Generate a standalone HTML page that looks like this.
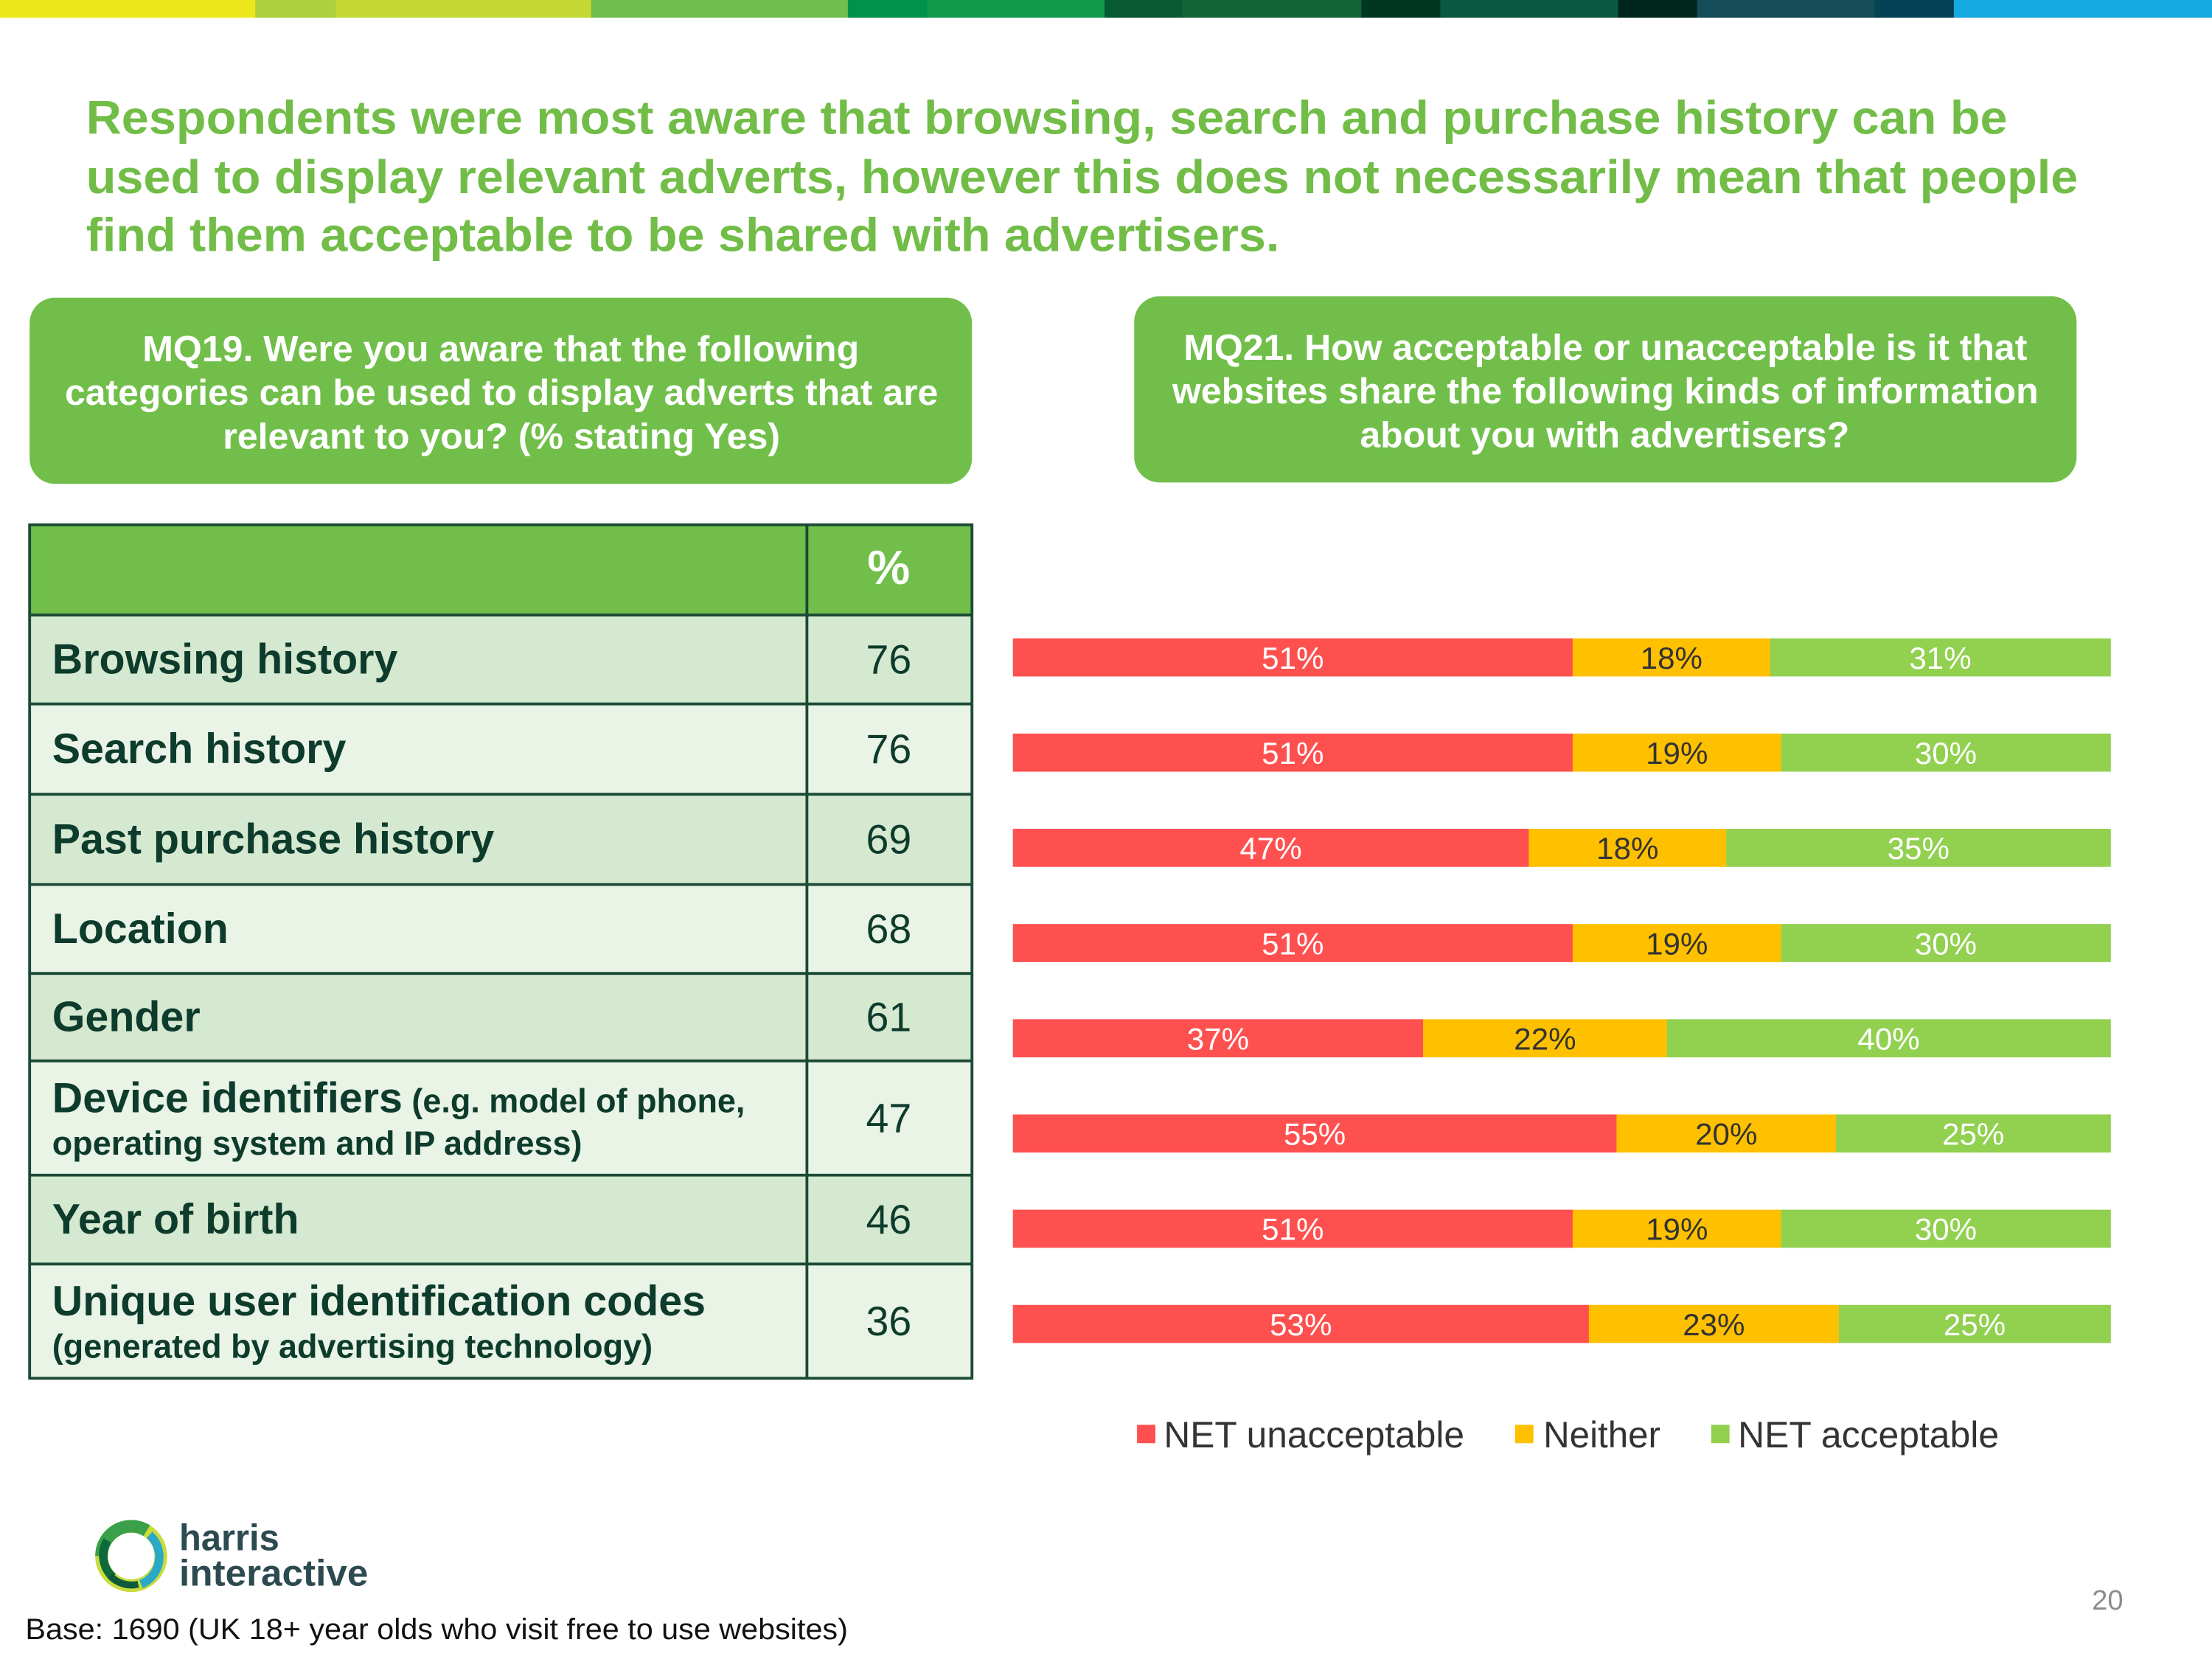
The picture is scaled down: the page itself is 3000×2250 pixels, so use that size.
<!DOCTYPE html>
<html><head><meta charset="utf-8"><style>html,body{margin:0;padding:0;background:#fff}svg{display:block}text{font-family:"Liberation Sans",sans-serif}</style></head>
<body>
<svg width="3000" height="2250" viewBox="0 0 1568 1176" preserveAspectRatio="none" xmlns="http://www.w3.org/2000/svg">
<g id="topbar"></g>
<g fill="#71bd47" font-weight="bold" font-size="33.5" lengthAdjust="spacingAndGlyphs">
<text x="61" y="95" textLength="1362" lengthAdjust="spacingAndGlyphs">Respondents were most aware that browsing, search and purchase history can be</text>
<text x="61" y="137" textLength="1412" lengthAdjust="spacingAndGlyphs">used to display relevant adverts, however this does not necessarily mean that people</text>
<text x="61" y="178" textLength="846" lengthAdjust="spacingAndGlyphs">find them acceptable to be shared with advertisers.</text>
</g>
<g>
<rect x="21" y="211" width="668" height="132" rx="18" fill="#71bf4a"/>
<g fill="#fff" font-weight="bold" font-size="25.5">
<text x="101" y="256" textLength="508" lengthAdjust="spacingAndGlyphs">MQ19. Were you aware that the following</text>
<text x="46" y="287" textLength="619" lengthAdjust="spacingAndGlyphs">categories can be used to display adverts that are</text>
<text x="158" y="318" textLength="395" lengthAdjust="spacingAndGlyphs">relevant to you? (% stating Yes)</text></g>
</g>
<g>
<rect x="804" y="210" width="668" height="132" rx="18" fill="#71bf4a"/>
<g fill="#fff" font-weight="bold" font-size="25.5">
<text x="839" y="255" textLength="598" lengthAdjust="spacingAndGlyphs">MQ21. How acceptable or unacceptable is it that</text>
<text x="831" y="286" textLength="614" lengthAdjust="spacingAndGlyphs">websites share the following kinds of information</text>
<text x="964" y="317" textLength="347" lengthAdjust="spacingAndGlyphs">about you with advertisers?</text></g>
</g>
<g id="table"></g>
<g id="chart"></g>
<g font-size="26" fill="#333">
<rect x="806" y="1010" width="13" height="13" fill="#ff5050"/>
<text x="825" y="1026" textLength="213" lengthAdjust="spacingAndGlyphs">NET unacceptable</text>
<rect x="1074" y="1010" width="13" height="13" fill="#ffc000"/>
<text x="1094" y="1026" textLength="83" lengthAdjust="spacingAndGlyphs">Neither</text>
<rect x="1213" y="1010" width="13" height="13" fill="#92d050"/>
<text x="1232" y="1026" textLength="185" lengthAdjust="spacingAndGlyphs">NET acceptable</text>
</g>
<g>
<circle cx="93" cy="1103" r="21" fill="none" stroke="#c8dc3c" stroke-width="9"/>
<path d="M72 1103 A21 21 0 0 1 104 1085" fill="none" stroke="#3aa04a" stroke-width="9"/>
<path d="M80 1118 A21 21 0 0 1 76 1092" fill="none" stroke="#0e6a3a" stroke-width="6"/>
<path d="M106 1088 A21 21 0 0 1 100 1123" fill="none" stroke="#2aa8c8" stroke-width="6"/>
<path d="M98 1123 A21 21 0 0 1 78 1117" fill="none" stroke="#0e5a3a" stroke-width="5"/>
<text x="127" y="1099" font-size="26" font-weight="bold" fill="#2d4a50" textLength="71" lengthAdjust="spacingAndGlyphs">harris</text>
<text x="127" y="1124" font-size="26" font-weight="bold" fill="#2d4a50" textLength="134" lengthAdjust="spacingAndGlyphs">interactive</text>
</g>
<text x="1494" y="1141" font-size="20" fill="#8c8c8c" text-anchor="middle">20</text>
<text x="18" y="1162" font-size="21" fill="#111" textLength="583" lengthAdjust="spacingAndGlyphs">Base: 1690 (UK 18+ year olds who visit free to use websites)</text>
</svg>
<script>
const NS='http://www.w3.org/2000/svg';
function mk(tag,attrs,parent,txt){const e=document.createElementNS(NS,tag);for(const k in attrs)e.setAttribute(k,attrs[k]);if(txt!==undefined)e.textContent=txt;parent.appendChild(e);return e;}
const barColors=['#ebe71a','#aed03c','#c3d835','#70bf4e','#00924a','#10984b','#075a34','#126436','#003720','#095841','#00261c','#144c58','#064255','#16a8e0'];
const barStops=[0,181,238,419,601,657,783,838,965,1021,1147,1203,1329,1385,1568];
const tb=document.getElementById('topbar');
barColors.forEach((c,i)=>{const r=mk('rect',{x:barStops[i],y:0,width:barStops[i+1]-barStops[i]+0.5,height:12.5,fill:c},tb);

});
const rowLabels=['Browsing history','Search history','Past purchase history','Location','Gender','Device identifiers','Year of birth','Unique user identification codes'];
const rowSub=['','','','','',' (e.g. model of phone,','',''];
const rowSub2=['','','','','','operating system and IP address)','','(generated by advertising technology)'];
const awareValues=[76,76,69,68,61,47,46,36];
const rowEdges=[436,499,563,627,690,752,833,896,977];
const tg=document.getElementById('table');
const hd=mk('rect',{x:21,y:372,width:668,height:64,fill:'#71bf4a'},tg);


const pc=mk('text',{x:630,y:414,'font-size':34,'font-weight':'bold',fill:'#fff','text-anchor':'middle'},tg,'%');


rowLabels.forEach((lab,i)=>{
 const y0=rowEdges[i],y1=rowEdges[i+1],h=y1-y0,cy=(y0+y1)/2;
 const r=mk('rect',{x:21,y:y0,width:668,height:h,fill:i%2===0?'#d5e8d0':'#e9f3e6'},tg);
 
 
 const two=rowSub2[i]!=='';
 const t=mk('text',{x:37,y:two?cy-4:cy+10,'font-size':30,'font-weight':'bold',fill:'#0d3b2c'},tg);
 
 
 mk('tspan',{},t,lab);
 if(rowSub[i])mk('tspan',{'font-size':23.5},t,rowSub[i]);
 if(two){const s=mk('text',{x:37,y:cy+26,'font-size':23.5,'font-weight':'bold',fill:'#0d3b2c'},tg,rowSub2[i]);
 
 }
 const v=mk('text',{x:630,y:cy+10,'font-size':29,fill:'#0d3b2c','text-anchor':'middle'},tg,String(awareValues[i]));
 
 
});
const ln='#1b4a36';
mk('rect',{x:21,y:372,width:668,height:605,fill:'none',stroke:ln,'stroke-width':2},tg);
mk('line',{x1:572,y1:372,x2:572,y2:977,stroke:ln,'stroke-width':2},tg);
rowEdges.slice(0,-1).forEach(y=>mk('line',{x1:21,y1:y,x2:689,y2:y,stroke:ln,'stroke-width':2},tg));
const unaccept=[51,51,47,51,37,55,51,53];
const neither=[18,19,18,19,22,20,19,23];
const accept=[31,30,35,30,40,25,30,25];
const series=[{v:unaccept,c:'#ff5050',t:'#fff',n:'unacceptable'},{v:neither,c:'#ffc000',t:'#333',n:'neither'},{v:accept,c:'#92d050',t:'#fff',n:'acceptable'}];
const X0=718,X1=1496,Y0=466,DY=67.5,BH=27;
const xs=f=>X0+f*(X1-X0);
const ys=i=>Y0+i*DY;
const cg=document.getElementById('chart');
unaccept.forEach((_,i)=>{
 const tot=unaccept[i]+neither[i]+accept[i];let cum=0;
 series.forEach(s=>{
  const a=xs(cum/tot),b=xs((cum+s.v[i])/tot);cum+=s.v[i];
  const r=mk('rect',{x:a,y:ys(i)-BH/2,width:b-a+0.3,height:BH,fill:s.c},cg);
  
  
  const t=mk('text',{x:(a+b)/2,y:ys(i)+8,'font-size':22,fill:s.t,'text-anchor':'middle'},cg,s.v[i]+'%');
  
  
 });
});
</script>
</body></html>
